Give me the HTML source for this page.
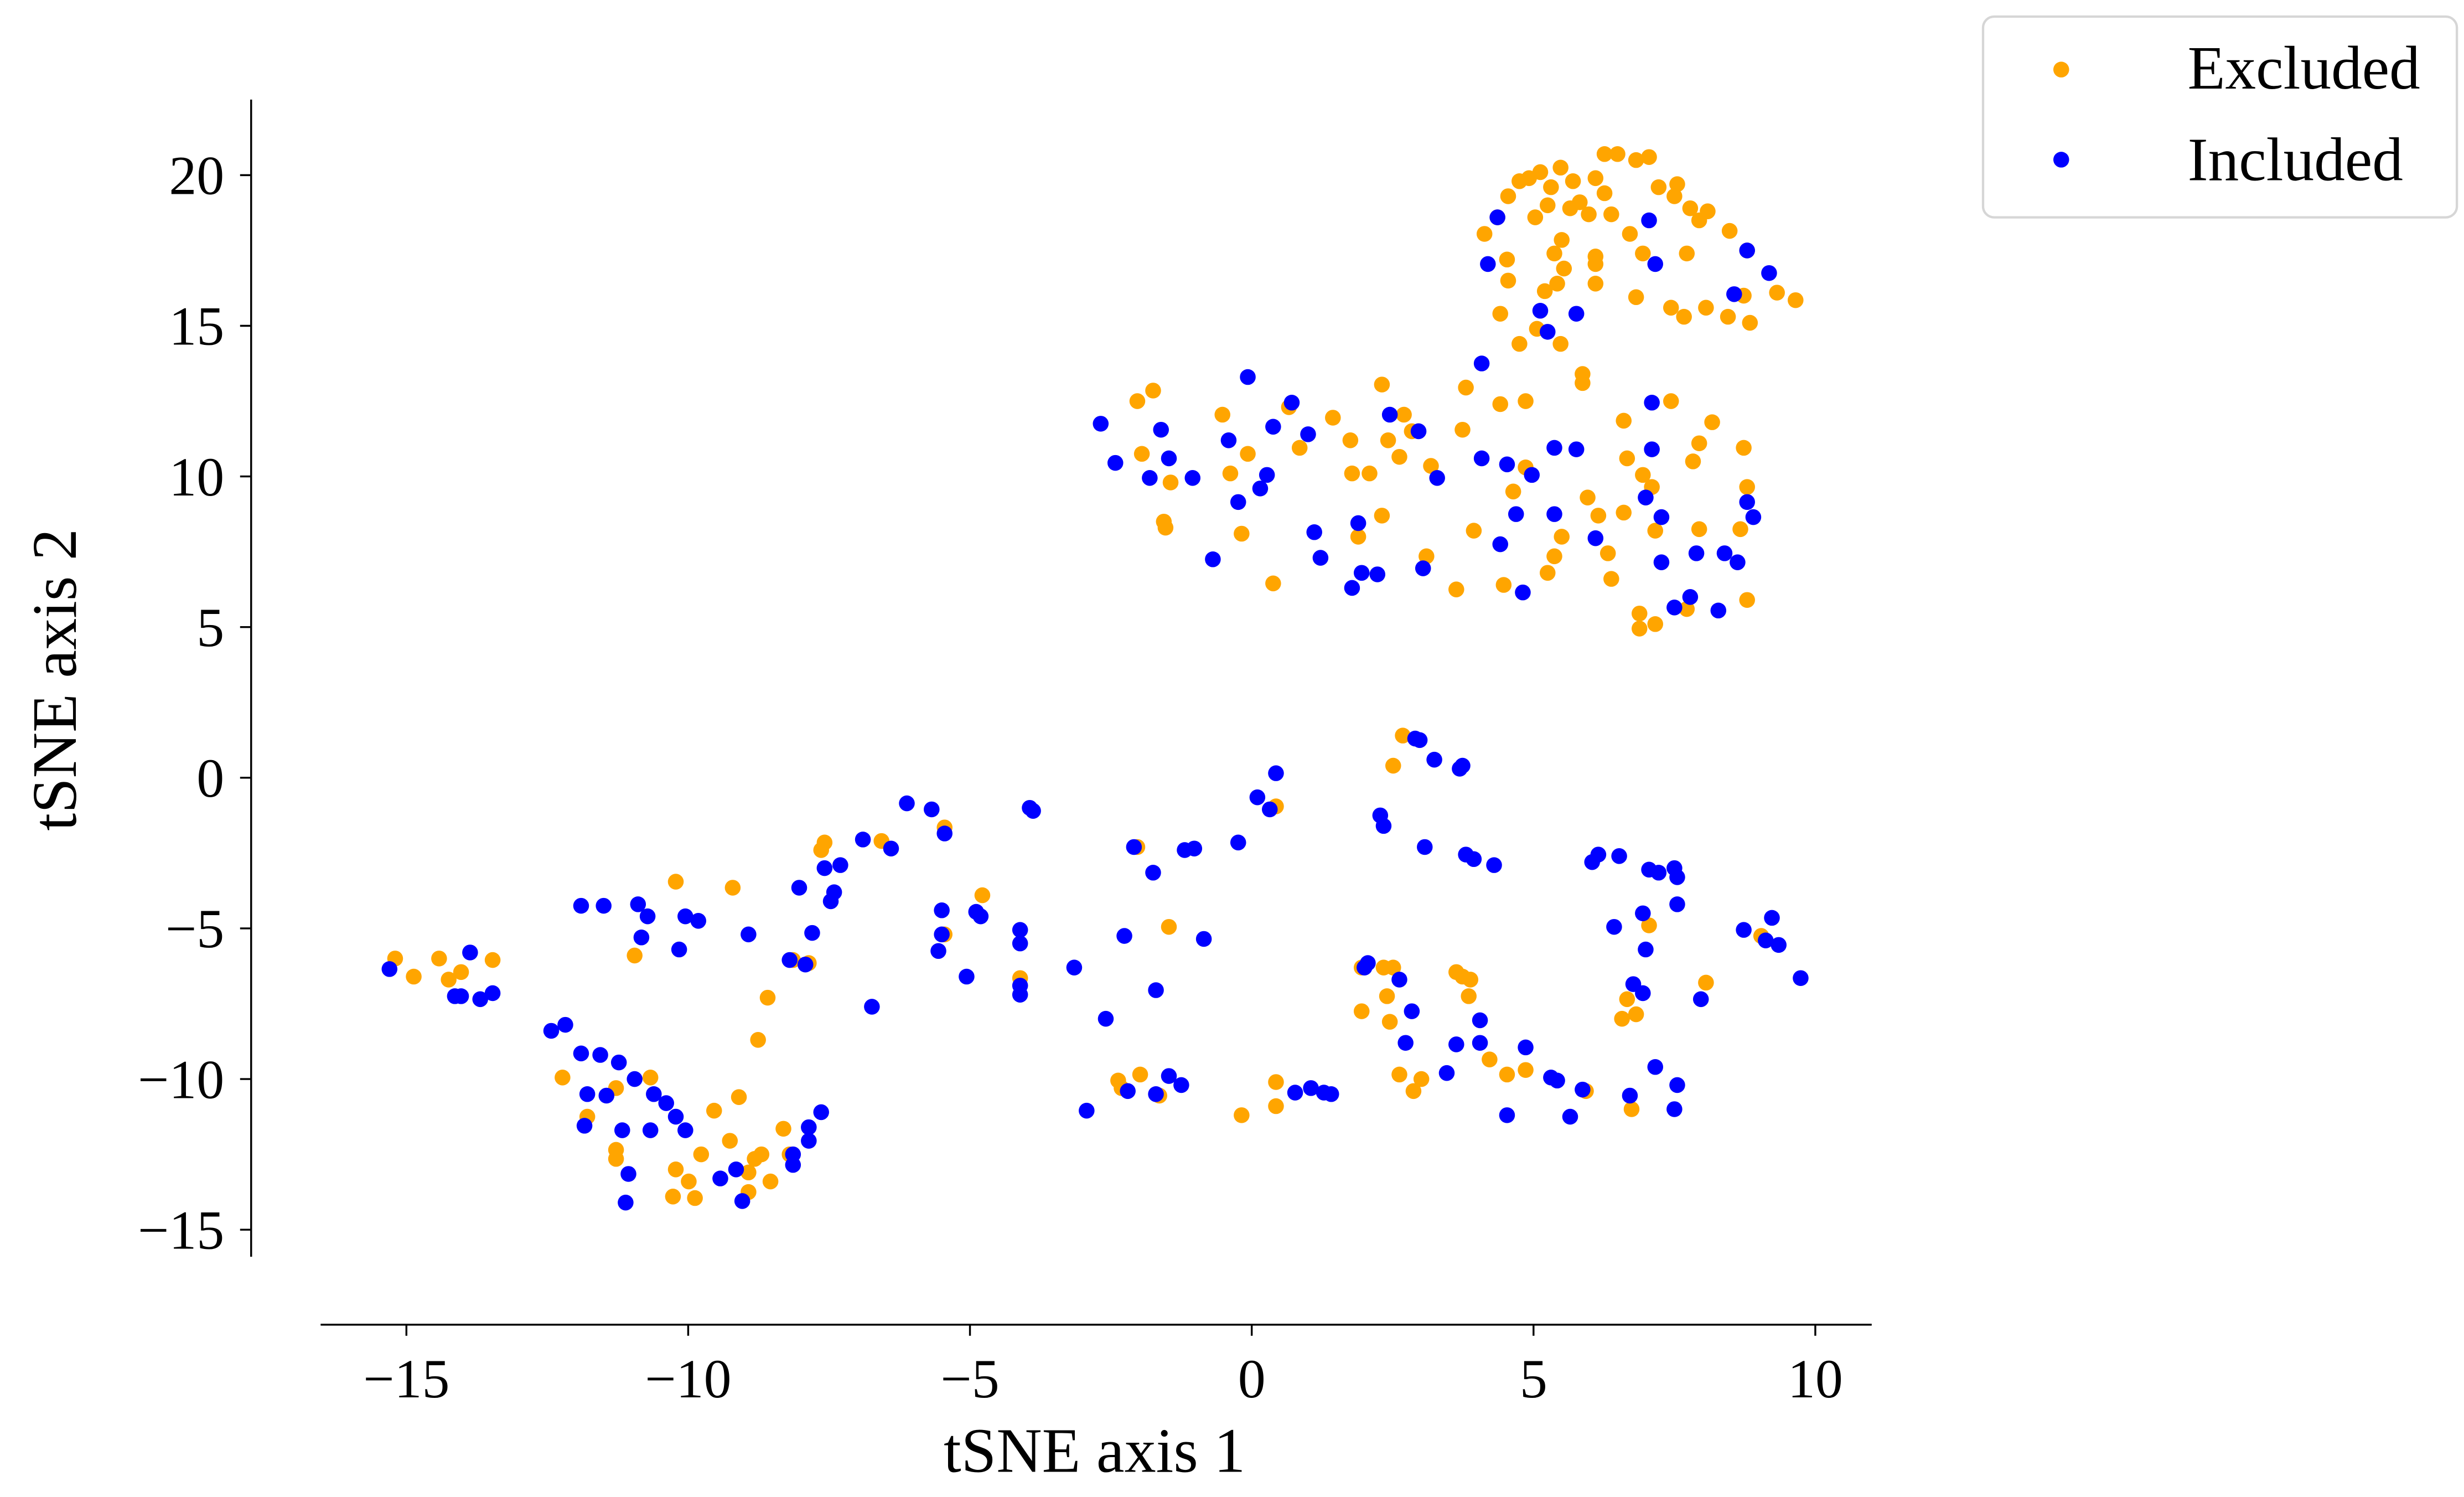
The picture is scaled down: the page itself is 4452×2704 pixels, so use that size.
<!DOCTYPE html>
<html><head><meta charset="utf-8"><style>html,body{margin:0;padding:0;background:#fff}svg{display:block}</style></head>
<body>
<svg id="chart" xmlns="http://www.w3.org/2000/svg" width="4452" height="2704" viewBox="0 0 1560 947" preserveAspectRatio="none" font-family="'Liberation Serif', serif">
<rect width="1560" height="947" fill="#fff"/>
<g id="axes"></g>
<g id="points"></g>
<g>
<rect x="1255.5" y="10.5" width="300" height="127" rx="7" fill="#fff" stroke="#d6d6d6" stroke-width="1.5"/>
<circle cx="1305" cy="44" r="5" fill="#FFA500"/>
<text x="1385" y="56" font-size="39">Excluded</text>
<circle cx="1305" cy="101" r="5" fill="#0000FF"/>
<text x="1385" y="114" font-size="39">Included</text>
</g>
<text x="693" y="931" font-size="40" text-anchor="middle">tSNE axis 1</text>
<text transform="translate(48,430) rotate(-90)" font-size="40" text-anchor="middle">tSNE axis 2</text>
</svg>
<script>
const xTicks = [-15, -10, -5, 0, 5, 10];
const yTicks = [-15, -10, -5, 0, 5, 10, 15, 20];
const excludedX = [4.13,4.36,4.55,4.75,4.92,5.12,5.31,5.48,5.7,5.82,6.1,6.26,6.49,6.82,7.05,7.22,7.55,7.5,7.78,7.94,8.09,8.48,8.79,6.26,5.65,5.03,5.25,5.98,6.38,6.71,6.1,6.1,5.5,5.37,5.54,5.42,5.2,5.06,4.53,4.55,4.41,4.75,5.48,5.87,5.87,6.94,7.72,8.06,7.44,7.67,8.45,8.84,9.65,9.32,6.82,8.73,6.1,
-2.03,-1.75,-1.95,-1.56,-1.53,-1.44,-0.52,-0.38,-0.07,-0.18,0.38,0.66,0.85,1.44,1.75,1.78,1.89,2.09,2.31,2.31,2.42,2.62,2.7,2.84,3.1,3.18,3.63,3.74,3.8,3.94,4.41,4.47,4.86,4.64,4.86,5.25,5.37,5.5,5.96,6.15,6.32,6.38,6.6,6.66,6.6,6.94,6.88,6.88,7.16,7.16,7.44,7.83,7.94,8.17,7.94,8.67,8.73,8.79,8.79,7.72,7.1,
2.68,2.51,1.95,1.95,2.34,2.51,2.4,2.45,2.62,2.87,3.01,3.63,3.74,3.85,3.88,4.22,4.53,4.86,5.93,6.66,6.82,7.05,6.74,8.06,9.04,6.57,0.43,0.43,0.43,-0.18,-2.37,-2.31,-1.98,-1.64,-1.47,-2.03,
-5.45,-6.57,-7.64,-7.58,-4.78,-5.45,-8.14,-7.86,-4.11,-8.59,-8.76,
-15.2,-14.87,-14.42,-14.25,-14.03,-13.47,-12.23,-11.79,-11.28,-11.28,-11.28,-10.22,-9.21,-10.95,-10.67,-10.27,-10.22,-9.99,-9.77,-9.54,-9.26,-9.1,-8.93,-8.82,-8.54,-8.31,-8.2,-9.88,-8.93,-8.7];
const excludedY = [18.05,18.6,19.3,19.8,19.9,20.1,19.6,20.25,19.8,19.1,19.9,20.7,20.7,20.5,20.6,19.6,19.7,19.3,18.9,18.5,18.8,18.15,17.5,19.4,18.9,18.6,19.0,18.7,18.7,18.05,17.3,17.05,17.85,17.4,16.9,16.4,16.15,14.9,17.2,16.5,15.4,14.4,14.4,13.4,13.1,17.4,17.4,15.6,15.6,15.3,15.3,15.1,15.85,16.1,15.95,16.0,16.4,
12.5,12.85,10.75,8.5,8.3,9.8,12.05,10.1,10.75,8.1,6.45,12.3,10.95,11.95,11.2,10.1,8.0,10.1,13.05,8.7,11.2,10.65,12.05,11.5,7.35,10.35,6.25,11.55,12.95,8.2,12.4,6.4,12.5,9.5,10.3,6.8,7.35,8.0,9.3,8.7,7.45,6.6,11.85,10.6,8.8,10.05,5.45,4.95,5.1,8.2,12.5,10.5,11.1,11.8,8.25,8.25,10.95,9.65,5.9,5.6,9.65,
1.4,0.4,-6.3,-7.75,-6.3,-6.3,-7.25,-8.1,-9.85,-10.4,-10.0,-6.45,-6.6,-7.25,-6.7,-9.35,-9.85,-9.7,-10.4,-7.35,-7.85,-4.9,-11.0,-6.8,-5.25,-8.0,-0.95,-10.1,-10.9,-11.2,-10.05,-10.3,-9.85,-10.55,-4.95,-2.3,
-1.65,-2.1,-2.4,-2.15,-3.9,-5.2,-6.05,-6.15,-6.65,-7.3,-8.7,
-6.0,-6.6,-6.0,-6.7,-6.45,-6.05,-9.95,-11.25,-10.3,-12.35,-12.65,-3.45,-3.65,-5.9,-9.95,-13.9,-13.0,-13.4,-12.5,-11.05,-12.05,-10.6,-13.1,-12.65,-13.4,-11.65,-12.5,-13.95,-13.75,-12.5];
const includedX = [4.19,4.36,5.12,5.25,5.76,7.05,7.16,8.56,8.79,9.18,
-2.68,-2.42,-1.81,-1.61,-1.47,-1.05,-0.69,-0.41,-0.07,-0.24,0.15,0.27,0.38,0.71,1.0,1.11,1.22,1.78,1.89,1.95,2.23,2.45,2.96,3.04,3.29,4.08,4.08,4.41,4.53,4.69,4.81,4.97,5.37,5.37,5.76,6.1,7.1,6.99,7.27,7.27,7.5,7.78,7.89,8.28,8.39,8.62,8.79,8.9,7.1,
2.28,2.34,2.9,2.98,3.24,3.69,3.74,3.07,3.8,3.94,4.3,6.04,6.15,6.52,7.05,7.22,7.5,7.55,6.43,6.94,6.99,6.77,6.94,7.55,7.16,7.55,7.5,7.97,8.73,9.12,9.23,9.35,9.74,2.06,2.0,2.62,2.73,2.84,3.63,4.05,4.05,3.46,4.53,4.86,5.31,5.42,5.65,5.87,6.71,1.41,1.28,1.05,0.77,-2.2,-1.47,-1.25,-1.7,-2.93,
-2.09,-1.75,-1.19,-1.02,-2.26,-1.7,-0.85,-2.59,-3.15,-0.24,0.1,0.32,0.43,-6.12,-5.68,-5.45,-6.4,-6.9,-7.3,-7.58,-7.41,-7.47,-8.03,-7.8,-8.2,-7.92,-5.5,-4.89,-4.81,-5.5,-5.56,-5.06,-4.11,-4.11,-4.11,-4.11,-3.94,-3.88,-6.74,
-15.3,-13.87,-14.14,-14.03,-13.69,-13.47,-12.43,-12.18,-11.9,-11.5,-10.89,-10.72,-10.83,-10.05,-10.16,-9.82,-8.93,-11.9,-11.56,-11.45,-11.23,-10.95,-10.61,-10.39,-10.22,-10.05,-10.67,-11.17,-11.84,-11.06,-11.11,-9.15,-9.43,-9.04,-8.14,-8.14,-7.86,-7.86,-7.64,-11.79];
const includedY = [17.05,18.6,15.5,14.8,15.4,18.5,17.05,16.05,17.5,16.75,
11.75,10.45,9.95,11.55,10.6,9.95,7.25,11.2,13.3,9.15,9.6,10.05,11.65,12.45,11.4,8.15,7.3,6.3,8.45,6.8,6.75,12.05,11.5,6.95,9.95,13.75,10.6,7.75,10.4,8.75,6.15,10.05,10.95,8.75,10.9,7.95,12.45,9.3,7.15,8.65,5.65,6.0,7.45,5.55,7.45,7.15,9.15,8.65,10.9,
-1.25,-1.6,1.3,1.25,0.6,0.3,0.4,-2.3,-2.55,-2.7,-2.9,-2.8,-2.55,-2.6,-3.05,-3.15,-3.0,-3.3,-4.95,-4.5,-5.7,-6.85,-7.15,-4.2,-9.6,-10.2,-11.0,-7.35,-5.05,-5.4,-4.65,-5.55,-6.65,-6.15,-6.3,-6.7,-8.8,-7.75,-8.85,-8.8,-8.05,-9.8,-11.2,-8.95,-9.95,-10.05,-11.25,-10.35,-10.55,-10.5,-10.45,-10.3,-10.45,-10.4,-9.9,-10.2,-10.5,-11.05,
-2.3,-3.15,-2.4,-2.35,-5.25,-7.05,-5.35,-8.0,-6.3,-2.15,-0.65,-1.05,0.15,-0.85,-1.05,-1.85,-2.35,-2.05,-2.9,-3.0,-3.8,-4.1,-3.65,-5.15,-6.05,-6.2,-4.4,-4.45,-4.6,-5.2,-5.75,-6.6,-5.05,-5.5,-6.9,-7.2,-1.0,-1.1,-7.6,
-6.35,-5.8,-7.25,-7.25,-7.35,-7.15,-8.4,-8.2,-4.25,-4.25,-4.2,-4.6,-5.3,-4.6,-5.7,-4.75,-5.2,-9.15,-9.2,-10.55,-9.45,-10.0,-10.5,-10.8,-11.25,-11.7,-11.7,-11.7,-11.55,-13.15,-14.1,-13.0,-13.3,-14.05,-12.5,-12.85,-12.05,-11.6,-11.1,-10.5];

const NS = 'http://www.w3.org/2000/svg';
function sx(v){ return 792.5 + v * 35.68; }
function sy(v){ return 492 - v * 19.06; }
const axes = document.getElementById('axes');
const pts = document.getElementById('points');
function mk(tag, attrs, parent){ const e=document.createElementNS(NS,tag); for(const k in attrs) e.setAttribute(k,attrs[k]); parent.appendChild(e); return e; }

const ySpine = mk('line',{x1:159,y1:63,x2:159,y2:795,stroke:'#000','stroke-width':1.2},axes);


const xSpine = mk('line',{x1:203,y1:838,x2:1185,y2:838,stroke:'#000','stroke-width':1.2},axes);



xTicks.forEach(t => {
  const x = sx(t);
  const tk = mk('line',{x1:x,y1:838,x2:x,y2:845,stroke:'#000','stroke-width':1.2},axes);
  
  
  const lb = mk('text',{x:x,y:884,'font-size':35,'text-anchor':'middle'},axes);
  lb.textContent = t < 0 ? '\u2212' + Math.abs(t) : String(t);
  
  
});
yTicks.forEach(t => {
  const y = sy(t);
  const tk = mk('line',{x1:152,y1:y,x2:159,y2:y,stroke:'#000','stroke-width':1.2},axes);
  
  
  const lb = mk('text',{x:142,y:y+12,'font-size':35,'text-anchor':'end'},axes);
  lb.textContent = t < 0 ? '\u2212' + Math.abs(t) : String(t);
  
  
});

excludedX.forEach((v,i) => {
  const c = mk('circle',{cx:sx(v),cy:sy(excludedY[i]),r:5,fill:'#FFA500'},pts);
  
  
});
includedX.forEach((v,i) => {
  const c = mk('circle',{cx:sx(v),cy:sy(includedY[i]),r:5,fill:'#0000FF'},pts);
  
  
});
</script>
</body></html>
